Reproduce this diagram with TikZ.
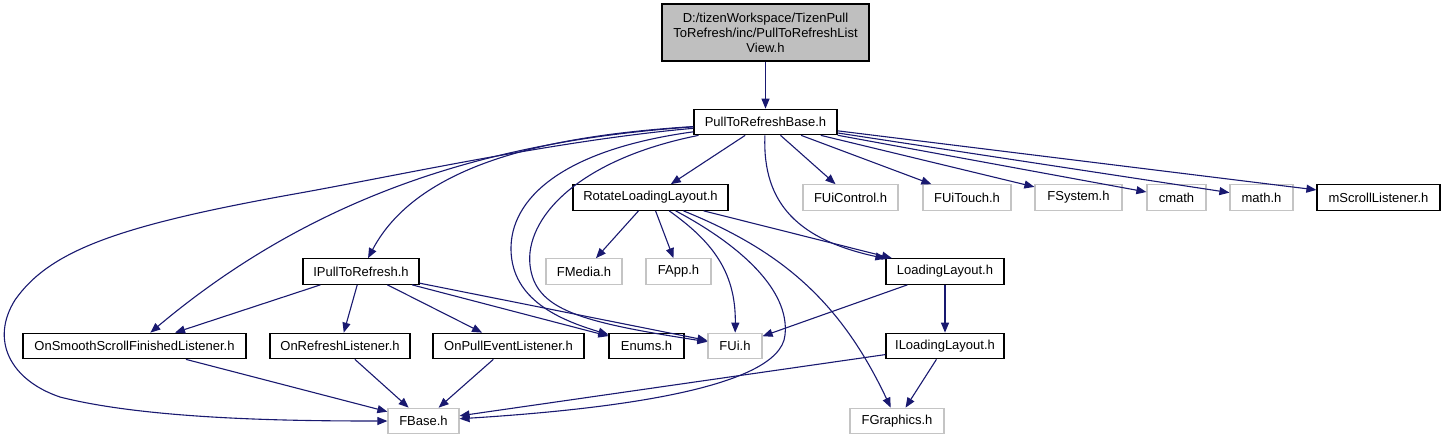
\documentclass[tikz,border=0pt]{standalone}
\usepackage{fontspec}
\setmainfont{Liberation Sans}
\usepackage{tikz}
\usetikzlibrary{arrows.meta}
\definecolor{edgeblue}{RGB}{25,25,112}
\definecolor{extgray}{RGB}{196,196,196}
\definecolor{rootgray}{RGB}{191,191,191}

\begin{document}
\begin{tikzpicture}[
    x=1pt, y=-1pt,
    header/.style={draw=black, line width=1.2pt, fill=white, minimum height=25.5pt,
                   inner sep=0pt, font=\fontsize{13}{15}\selectfont},
    extheader/.style={header, draw=extgray},
    rootheader/.style={header, fill=rootgray, align=center, minimum width=207pt,
                       minimum height=57pt},
    incl/.style={-{Triangle[length=10pt,width=8pt]}, line width=1.1pt, edgeblue}
]
    \useasboundingbox (0,0) rectangle (1445,440);

    \node[rootheader] (root) at (765.5,32.5)
        {D:/tizenWorkspace/TizenPull\\ToRefresh/inc/PullToRefreshList\\View.h};
    \node[header, minimum width=143pt] (base) at (765.5,122) {PullToRefreshBase.h};

    \node[header, minimum width=155pt] (rotate) at (650.5,197.5) {RotateLoadingLayout.h};
    \node[extheader, minimum width=95pt] (fuictrl) at (850.5,197.5) {FUiControl.h};
    \node[extheader, minimum width=88pt] (fuitouch) at (967,197.5) {FUiTouch.h};
    \node[extheader, minimum width=87pt] (fsystem) at (1078.5,197.5) {FSystem.h};
    \node[extheader, minimum width=59pt] (cmath) at (1176.5,197.5) {cmath};
    \node[extheader, minimum width=63pt] (mathh) at (1261.5,197.5) {math.h};
    \node[header, minimum width=123pt] (mscroll) at (1378.5,197.5) {mScrollListener.h};

    \node[header, minimum width=116pt] (ipull) at (361,271.5) {IPullToRefresh.h};
    \node[extheader, minimum width=76pt] (fmedia) at (584,271.5) {FMedia.h};
    \node[extheader, minimum width=65pt] (fapp) at (678.5,271.5) {FApp.h};
    \node[header, minimum width=118pt] (loading) at (945,271.5) {LoadingLayout.h};

    \node[header, minimum width=223pt] (onsmooth) at (134.5,346) {OnSmoothScrollFinishedListener.h};
    \node[header, minimum width=140pt] (onrefresh) at (340,346) {OnRefreshListener.h};
    \node[header, minimum width=151pt] (onpull) at (508.5,346) {OnPullEventListener.h};
    \node[header, minimum width=75pt] (enums) at (646.5,346) {Enums.h};
    \node[extheader, minimum width=54pt] (fui) at (735,346) {FUi.h};
    \node[header, minimum width=118pt] (iloading) at (945,346) {ILoadingLayout.h};

    \node[extheader, minimum width=71pt] (fbase) at (423.5,421) {FBase.h};
    \node[extheader, minimum width=94pt] (fgraphics) at (897,421) {FGraphics.h};

    \draw[incl] (root) -- (base);

    \draw[incl] (base) -- (rotate);
    \draw[incl] (base) -- (fuictrl);
    \draw[incl] (base) -- (fuitouch);
    \draw[incl] (base) -- (fsystem);
    \draw[incl] (base) -- (cmath);
    \draw[incl] (base) -- (mathh);
    \draw[incl] (base) -- (mscroll);
    \draw[incl] (base) .. controls (560,135) and (420,160) .. (ipull);
    \draw[incl] (base) .. controls (500,140) and (320,190) .. (onsmooth);
    \draw[incl] (base) .. controls (560,140) and (400,175) .. (300,193)
        .. controls (120,225) and (50,250) .. (15,300)
        .. controls (-10,340) and (10,380) .. (60,397)
        .. controls (150,420) and (300,421) .. (fbase);
    \draw[incl] (base) .. controls (560,150) and (510,200) .. (511,250)
        .. controls (512,300) and (560,320) .. (enums);
    \draw[incl] (base) .. controls (575,160) and (525,220) .. (530,265)
        .. controls (535,310) and (580,322) .. (fui);
    \draw[incl] (base) .. controls (762,205) and (800,240) .. (loading);

    \draw[incl] (ipull) -- (onsmooth);
    \draw[incl] (ipull) -- (onrefresh);
    \draw[incl] (ipull) -- (onpull);
    \draw[incl] (ipull) -- (enums);
    \draw[incl] (ipull) -- (fui);

    \draw[incl] (rotate) -- (fmedia);
    \draw[incl] (rotate) -- (fapp);
    \draw[incl] (rotate) .. controls (710,240) and (736,270) .. (fui);
    \draw[incl] (rotate) .. controls (740,245) and (790,290) .. (785,335)
        .. controls (780,390) and (600,410) .. (fbase);
    \draw[incl] (rotate) .. controls (780,250) and (840,300) .. (fgraphics);
    \draw[incl] (rotate) -- (loading);

    \draw[incl] (loading) -- (fui);
    \draw[incl] (loading) -- (iloading);
    \draw[incl] (iloading) -- (fbase);
    \draw[incl] (iloading) -- (fgraphics);

    \draw[incl] (onsmooth) -- (fbase);
    \draw[incl] (onrefresh) -- (fbase);
    \draw[incl] (onpull) -- (fbase);
\end{tikzpicture}
\end{document}
